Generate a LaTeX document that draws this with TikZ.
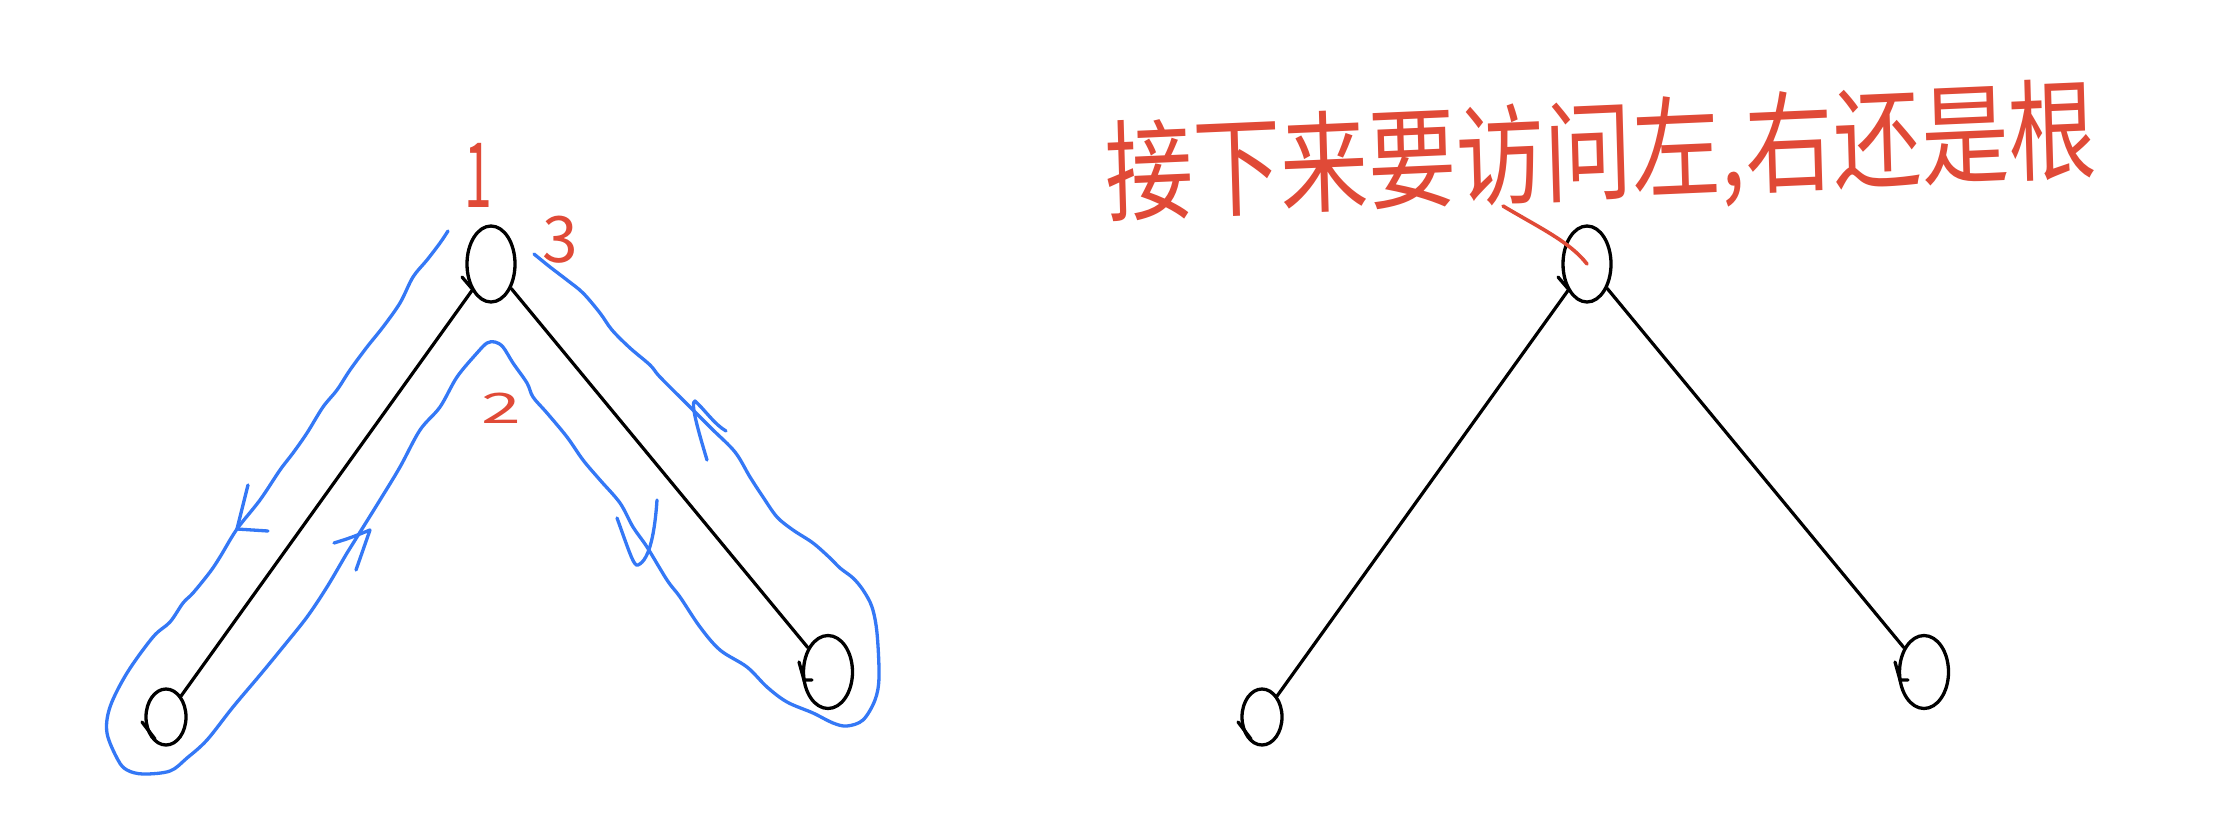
\documentclass[tikz,border=0pt]{standalone}
\usepackage{fontspec}
\newfontfamily\cjk{Noto Sans CJK SC}
\usetikzlibrary{shapes.geometric}
\definecolor{blueink}{RGB}{52,120,246}
\definecolor{redink}{RGB}{224,74,55}
\tikzset{
  treenode/.style={ellipse, draw=black, line width=3.3pt, inner sep=0pt},
  rootnode/.style={treenode, minimum width=48pt, minimum height=76pt},
  lleaf/.style={treenode, minimum width=40pt, minimum height=56pt},
  rleaf/.style={treenode, minimum width=49pt, minimum height=73pt},
  treeedge/.style={draw=black, line width=3.2pt, line cap=round},
  tick/.style={draw=black, line width=3.3pt, line cap=round},
  walk/.style={draw=blueink, line width=3.3pt, line cap=round, line join=round},
  redpen/.style={draw=redink, line width=3.6pt, line cap=round},
  redlabel/.style={text=redink, inner sep=0pt},
}
\begin{document}
\begin{tikzpicture}[x=1pt,y=-1pt]
\useasboundingbox[fill=white] (0,0) rectangle (2224,830);

% ---------- left tree ----------
\node[rootnode] (r1) at (491,264) {};
\node[lleaf] (a1) at (166,717) {};
\node[rleaf] (b1) at (828,672) {};
\draw[treeedge] (r1) -- (a1);
\draw[treeedge] (r1) -- (b1);
\draw[tick] (462,277) -- (474,291);
\draw[tick] (142,722) -- (155,739);
\draw[tick] (799,662) -- (804,680) -- (812,680);

% blue traversal contour
\draw[walk] plot[smooth, tension=0.55] coordinates {
 (448,231) (440,243) (427,260) (413,277) (400,303) (383,327) (367,347)
 (350,370) (337,390) (323,407) (307,433) (293,453) (280,470) (260,500)
 (237,529) (220,557) (210,572) (193,593) (183,603) (170,622) (153,637)
 (127,673) (110,707) (107,733) (118,760) (127,770) (143,774) (170,771)
 (187,758) (207,740) (233,707) (260,675) (283,647) (307,617) (327,587)
 (347,553) (357,537) (380,500) (400,467) (420,430) (440,407) (457,377)
 (477,353) (487,343) (495,342) (503,347) (513,363) (527,383) (533,397)
 (547,413) (567,437) (583,460) (600,480) (620,503) (633,527) (647,547)
 (667,580) (680,597) (700,627) (720,650) (747,667) (767,687) (787,702)
 (813,713) (833,723) (847,726) (863,720) (875,700) (879,677) (877,633)
 (872,607) (863,590) (853,578) (840,568) (830,558) (813,543) (793,530)
 (777,517) (763,497) (750,477) (735,452) (712,429) (689,406) (660,377)
 (650,365) (630,348) (612,330) (600,313) (583,293) (567,280) (550,267)
 (534,254)};

% blue arrowheads
\draw[walk] (248,485) -- (237,529) -- (268,531);
\draw[walk] (334,543) .. controls (350,538) .. (370,530) -- (356,570);
\draw[walk] (617,518) .. controls (628,548) and (634,568) .. (638,565)
  .. controls (650,560) and (655,530) .. (657,500);
\draw[walk] (707,460) .. controls (698,430) and (690,402) .. (695,401)
  .. controls (705,410) and (714,424) .. (726,431);

% red step labels
\node[redlabel, font=\cjk\fontsize{50}{50}\selectfont, yscale=1.8] (n1) at (478,175) {1};
\node[redlabel, font=\cjk\fontsize{64}{64}\selectfont] (n3) at (560,240) {3};
\node[redlabel, font=\cjk\fontsize{42}{42}\selectfont, xscale=1.7] (n2) at (501,408) {2};

% ---------- right tree ----------
\node[rootnode] (r2) at (1587,264) {};
\node[lleaf] (a2) at (1262,717) {};
\node[rleaf] (b2) at (1924,672) {};
\draw[treeedge] (r2) -- (a2);
\draw[treeedge] (r2) -- (b2);
\draw[tick] (1558,277) -- (1570,291);
\draw[tick] (1238,722) -- (1251,739);
\draw[tick] (1895,662) -- (1900,680) -- (1908,680);

% question and pointer
\node[text=redink, inner sep=0pt, font=\cjk\fontsize{88}{90}\selectfont, yscale=1.25, rotate=2] (q) at (1601,156) {接下来要访问左,右还是根};
\coordinate (qstart) at (1503,206);
\draw[redpen] (qstart) .. controls (1540,228) and (1570,242) .. (r2.center);
\end{tikzpicture}
\end{document}
